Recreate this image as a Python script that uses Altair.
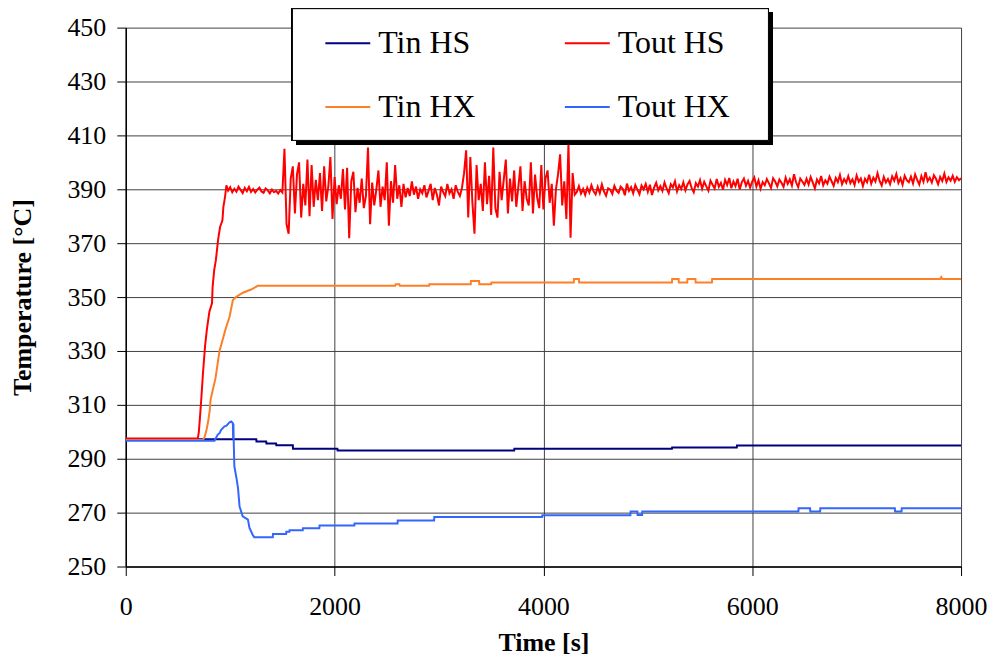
import altair as alt
import pandas as pd

SERIES = ["Tin HS", "Tout HS", "Tin HX", "Tout HX"]
COLORS = ["#000080", "#FF0000", "#FF7F27", "#3366FF"]

Y_TICKS = [250, 270, 290, 310, 330, 350, 370, 390, 410, 430, 450]
X_TICKS = [0, 2000, 4000, 6000, 8000]

# ---- Tin HS (navy) ----
tin_hs_time = [0, 1250, 1252, 1345, 1347, 1440, 1442, 1600, 1602, 2027, 2029,
               3720, 3722, 5231, 5233, 5852, 5854, 8000]
tin_hs_temp = [297.2, 297.2, 296.4, 296.4, 295.7, 295.7, 295.0, 295.0, 293.7, 293.7,
               293.1, 293.1, 293.7, 293.7, 294.2, 294.2, 294.9, 294.9]

# ---- Tin HX (orange) ----
tin_hx_time = [0, 740, 755, 773, 789, 805, 812, 860, 898, 956,
               994, 1026, 1058, 1122, 1200, 1265, 2580, 2585, 2620, 2625,
               2905, 2907, 3304, 3306, 3384, 3386, 3500, 3502, 4291, 4293,
               4340, 4342, 5231, 5233, 5295, 5297, 5378, 5380, 5456, 5458,
               5614, 5616, 7800, 7810, 7820, 8000]
tin_hx_temp = [297.0, 297.0, 298.0, 300.7, 303.8, 308.1, 311.9, 320.0, 330.0, 338.1,
               342.7, 348.9, 350.1, 351.6, 352.8, 354.2, 354.2, 354.8, 354.8, 354.2,
               354.2, 354.8, 354.8, 356.0, 356.0, 354.8, 354.8, 355.4, 355.4, 356.7,
               356.7, 355.4, 355.4, 356.7, 356.7, 355.4, 355.4, 356.7, 356.7, 355.4,
               355.4, 356.7, 356.7, 357.4, 356.7, 356.7]

# ---- Tout HX (blue) ----
tout_hx_time = [0, 850, 880, 898, 914, 946, 962, 994, 1010, 1026,
                1028, 1031, 1034, 1040, 1060, 1075, 1090, 1120, 1170, 1185,
                1215, 1230, 1408, 1410, 1536, 1538, 1567, 1569, 1695, 1697,
                1854, 1856, 2189, 2191, 2603, 2605, 2953, 2955, 3988, 3990,
                4833, 4835, 4900, 4902, 4945, 4947, 6442, 6444, 6554, 6556,
                6650, 6652, 7366, 7368, 7430, 7432, 8000]
tout_hx_temp = [296.7, 296.7, 298.9, 299.5, 300.7, 302.0, 302.2, 303.5, 303.8, 303.2,
                297.5, 303.0, 296.5, 287.2, 282.9, 279.2, 272.3, 268.6, 267.4, 264.3,
                261.8, 260.9, 260.9, 262.1, 262.1, 262.9, 262.9, 263.5, 263.5, 264.2,
                264.2, 265.2, 265.2, 266.0, 266.0, 267.1, 267.1, 268.4, 268.4, 269.0,
                269.0, 270.4, 270.4, 269.1, 269.1, 270.4, 270.4, 271.6, 271.6, 270.4,
                270.4, 271.6, 271.6, 270.4, 270.4, 271.6, 271.6]

# ---- Tout HS (red): start-up ramp ----
tout_hs_rise_time = [0, 690, 700, 712, 723, 740, 760, 777, 801, 826,
                     832, 847, 863, 884, 903, 926, 935, 951, 964]
tout_hs_rise_temp = [297.5, 297.5, 300.0, 306.0, 312.0, 322.0, 332.0, 338.0, 344.6, 347.7,
                     353.8, 360.0, 363.7, 371.1, 376.0, 378.5, 383.5, 387.2, 391.5]

# ---- Tout HS (red): readings every 20 s from 980 s to 8000 s ----
tout_hs_plateau = [
    # 980 - 1500 s
    389.5, 390.8, 388.9, 390.2, 389.1, 391.0, 389.8, 388.6, 390.5, 389.3,
    390.9, 389.0, 390.1, 388.8, 389.9, 390.6, 389.2, 388.7, 390.3, 389.6,
    388.5, 389.9, 388.9, 389.4, 388.4, 389.7, 388.8,
    # 1520 - 2680 s
    405.0, 377.0, 373.5, 394.0, 398.5, 381.0, 395.5, 400.0, 379.5, 392.0,
    384.0, 401.0, 380.0, 399.0, 383.5, 393.5, 386.0, 396.0, 382.0, 398.5,
    385.5, 391.0, 402.0, 379.0, 394.5, 384.5, 391.5, 386.5, 397.5, 382.5,
    398.0, 371.8, 393.0, 396.5, 381.5, 390.5, 385.0, 394.0, 383.0, 387.5,
    405.5, 377.0, 392.5, 384.0, 390.0, 397.0, 383.5, 391.0, 386.0, 400.0,
    376.5, 393.0, 385.0, 399.0, 386.5, 391.5, 383.5, 392.0, 387.0,
    # 2700 - 3220 s
    390.5, 387.5, 392.9, 388.0, 391.0, 386.5, 390.0, 388.5, 391.5, 387.0,
    389.5, 392.0, 386.0, 390.5, 388.0, 384.0, 391.0, 389.0, 387.5, 392.0,
    388.5, 390.0, 386.5, 391.5, 389.0, 387.5, 390.5,
    # 3240 - 4300 s
    396.0, 404.5, 379.5, 402.0, 385.0, 373.5, 399.0, 386.0, 392.0, 382.0,
    400.0, 384.5, 395.0, 380.5, 405.5, 383.0, 379.5, 396.5, 386.0, 393.5,
    401.0, 381.0, 394.0, 385.5, 397.0, 383.5, 391.0, 398.5, 382.0, 393.0,
    386.5, 384.0, 400.0, 381.0, 395.5, 387.0, 383.0, 399.0, 382.5, 394.0,
    397.0, 385.0, 392.0, 376.5, 390.0, 395.5, 403.0, 384.0, 393.0, 379.0,
    407.0, 372.0, 396.0, 388.0,
    # 4320 - 8000 s
    389.0, 391.2, 388.4, 390.1, 387.9, 390.6, 388.8, 391.5, 389.3, 388.1,
    390.9, 388.6, 391.8, 389.2, 387.6, 390.4, 389.9, 388.3, 391.3, 389.5,
    388.7, 391.0, 390.2, 387.8, 392.1, 389.4, 390.8, 388.5, 391.6, 389.9,
    388.2, 391.4, 390.0, 392.0, 389.1, 391.7, 387.9, 390.6, 392.4, 389.6,
    391.2, 389.4, 392.5, 390.3, 388.6, 391.9, 390.7, 393.0, 389.2, 391.5,
    390.1, 392.6, 389.6, 391.8, 393.1, 390.4, 388.9, 392.3, 391.0, 393.4,
    390.2, 392.8, 391.1, 389.5, 393.2, 391.7, 390.3, 393.8, 390.9, 392.4,
    389.8, 393.5, 391.6, 394.2, 390.4, 392.9, 391.2, 393.9, 389.9, 392.6,
    394.0, 391.3, 393.1, 390.6, 392.8, 394.4, 391.0, 393.3, 390.2, 392.7,
    391.5, 393.8, 392.2, 390.5, 394.1, 392.9, 391.1, 393.6, 392.4, 390.9,
    394.3, 392.0, 393.7, 391.4, 395.6, 392.6, 390.8, 394.0, 392.9, 391.6,
    393.9, 391.8, 394.6, 392.5, 390.4, 393.6, 392.2, 394.9, 391.5, 393.3,
    392.1, 394.7, 393.0, 391.3, 394.2, 392.7, 395.3, 391.9, 393.8, 392.4,
    394.9, 392.3, 393.7, 391.6, 395.1, 392.8, 394.0, 391.2, 393.9, 392.6,
    395.4, 392.1, 394.3, 392.9, 396.0, 393.1, 391.4, 394.6, 392.5, 393.8,
    391.9, 394.8, 393.2, 395.7, 392.4, 394.1, 391.7, 395.0, 393.4, 392.6,
    394.7, 392.2, 395.5, 393.5, 391.8, 394.9, 392.8, 396.3, 393.0, 394.3,
    392.5, 395.2, 393.9, 391.9, 394.6, 393.1, 395.8, 392.7, 394.4, 393.2,
    395.0, 392.8, 394.5, 393.4, 394.1,
]
tout_hs_plateau_time = [980 + 20 * i for i in range(len(tout_hs_plateau))]

tout_hs_time = tout_hs_rise_time + tout_hs_plateau_time
tout_hs_temp = tout_hs_rise_temp + tout_hs_plateau

rows = []
for name, ts, vs in [("Tin HS", tin_hs_time, tin_hs_temp),
                     ("Tout HS", tout_hs_time, tout_hs_temp),
                     ("Tin HX", tin_hx_time, tin_hx_temp),
                     ("Tout HX", tout_hx_time, tout_hx_temp)]:
    for i, (t, v) in enumerate(zip(ts, vs)):
        rows.append({"series": name, "time": t, "temp": v, "idx": i})
df = pd.DataFrame(rows)

FONT = "Liberation Serif, Times New Roman, DejaVu Serif, serif"

AXIS_STYLE = dict(
    labelFont=FONT, labelFontSize=26, labelColor="black",
    titleFont=FONT, titleFontSize=26, titleFontWeight="bold", titleColor="black",
    gridColor="#404040", gridWidth=1, gridOpacity=1,
    domainColor="black", domainWidth=1.5,
    tickColor="black", tickSize=9, tickWidth=1, format="d",
)

lines = alt.Chart(df).mark_line(strokeWidth=2, clip=True).encode(
    x=alt.X("time:Q",
            scale=alt.Scale(domain=[0, 8000], nice=False),
            axis=alt.Axis(values=X_TICKS, title="Time [s]", labelPadding=18,
                          titlePadding=10, labelFlush=False, **AXIS_STYLE)),
    y=alt.Y("temp:Q",
            scale=alt.Scale(domain=[250, 450], nice=False, zero=False),
            axis=alt.Axis(values=Y_TICKS, title="Temperature [°C]", labelPadding=11,
                          titlePadding=31, **AXIS_STYLE)),
    color=alt.Color("series:N",
                    scale=alt.Scale(domain=SERIES, range=COLORS),
                    title=None,
                    legend=alt.Legend(orient="none", legendX=199, legendY=-8,
                                      direction="horizontal",
                                      columns=2, symbolType="stroke",
                                      symbolSize=2025, symbolStrokeWidth=2,
                                      labelFont=FONT, labelFontSize=32,
                                      labelColor="black", labelOffset=7,
                                      columnPadding=85, rowPadding=24,
                                      padding=0)),
    order=alt.Order("idx:Q"),
)

# legend frame with drop shadow (decoration, pixel positions)
shadow = alt.Chart(df).mark_rect(color="black").encode(
    x=alt.value(171), x2=alt.value(648), y=alt.value(-15), y2=alt.value(117)
)
box = alt.Chart(df).mark_rect(fill="white", stroke="black", strokeWidth=1).encode(
    x=alt.value(167), x2=alt.value(644), y=alt.value(-19), y2=alt.value(113)
)

chart = alt.layer(lines, shadow, box).properties(
    width=837, height=540,
    padding={"left": 118, "top": 19, "right": 26, "bottom": 92},
    autosize=alt.AutoSizeParams(type="none"),
    background="white",
).configure_view(stroke=None)

chart.save("out.html", embed_options={"renderer": "svg", "actions": False})
